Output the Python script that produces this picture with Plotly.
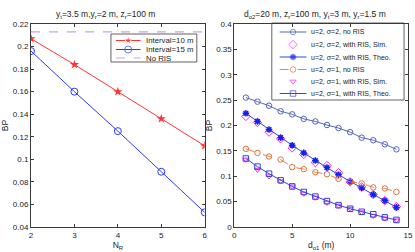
import plotly.graph_objects as go

# ---------------- data ----------------
# Left panel
nr = [2, 3, 4, 5, 6]
bp_int10 = [0.207, 0.184, 0.160, 0.136, 0.112]
bp_int15 = [0.196, 0.160, 0.125, 0.089, 0.053]
bp_noris_left = 0.213
left_names = ["Interval=10 m", "Interval=15 m", "No RIS"]

# Right panel
d_o1 = list(range(1, 15))
s2_noris = [0.255, 0.247, 0.239, 0.228, 0.222, 0.213, 0.208, 0.201, 0.195, 0.187, 0.176, 0.171, 0.163, 0.153]
s2_sim = [0.218, 0.206, 0.187, 0.174, 0.156, 0.143, 0.127, 0.121, 0.107, 0.089, 0.079, 0.064, 0.052, 0.040]
s2_theo = [0.224, 0.208, 0.192, 0.176, 0.161, 0.146, 0.131, 0.117, 0.103, 0.0895, 0.077, 0.064, 0.052, 0.0386]
s1_noris = [0.154, 0.146, 0.139, 0.133, 0.118, 0.114, 0.108, 0.104, 0.095, 0.089, 0.086, 0.078, 0.076, 0.069]
s1_sim = [0.133, 0.113, 0.100, 0.090, 0.080, 0.066, 0.058, 0.048, 0.042, 0.036, 0.029, 0.022, 0.017, 0.013]
s1_theo = [0.135, 0.119, 0.105, 0.092, 0.080, 0.069, 0.060, 0.051, 0.043, 0.036, 0.030, 0.025, 0.019, 0.014]
right_names = ["u=2, σ=2, no RIS", "u=2, σ=2, with RIS, Sim.", "u=2, σ=2, with RIS, Theo.",
               "u=2, σ=1, no RIS", "u=2, σ=1, with RIS, Sim.", "u=2, σ=1, with RIS, Theo."]

left_yticks = [0.04, 0.06, 0.08, 0.1, 0.12, 0.14, 0.16, 0.18, 0.2, 0.22]
right_yticks = [0, 0.05, 0.1, 0.15, 0.2, 0.25, 0.3, 0.35, 0.4]

# ---------------- styles ----------------
FONT = "Liberation Sans"
AX = "#3a3a3a"
W, H = 415, 252
PX0, PX1, PY0, PY1 = 31, 413, 24, 227   # plot-area pixel box


def px(x):
    return (x - PX0) / (PX1 - PX0)


def py(y):
    return (PY1 - y) / (PY1 - PY0)


left_styles = [
    dict(mode="lines+markers", line=dict(color="#ff3333", width=1),
         marker=dict(symbol="star", size=7, color="#ff3333")),
    dict(mode="lines+markers", line=dict(color="#2a3aff", width=1),
         marker=dict(symbol="circle-open", size=7, color="#2a3aff", line=dict(width=1))),
    dict(mode="lines", line=dict(color="#c9a3dd", width=1.2, dash="dash")),
]
right_styles = [
    dict(mode="lines+markers", line=dict(color="#5566bb", width=1),
         marker=dict(symbol="circle-open", size=5.5, color="#5566bb", line=dict(width=1))),
    dict(mode="markers",
         marker=dict(symbol="diamond-open", size=6.5, color="#ff22ff", line=dict(width=1))),
    dict(mode="lines+markers", line=dict(color="#3344dd", width=1),
         marker=dict(symbol="asterisk-open", size=5.5, color="#1122ee", line=dict(width=1.5))),
    dict(mode="lines+markers", line=dict(color="#e8844a", width=1, dash="dash"),
         marker=dict(symbol="circle-open", size=5.5, color="#e07040", line=dict(width=1))),
    dict(mode="markers",
         marker=dict(symbol="triangle-down-open", size=5.5, color="#ff22ff", line=dict(width=1))),
    dict(mode="lines+markers", line=dict(color="#3344dd", width=1),
         marker=dict(symbol="square-open", size=5.5, color="#3344dd", line=dict(width=1))),
]

fig = go.Figure()

# ---------------- data traces ----------------
left_series = [(nr, bp_int10), (nr, bp_int15), ([nr[0], nr[-1]], [bp_noris_left, bp_noris_left])]
for (xs, ys), st, nm in zip(left_series, left_styles, left_names):
    fig.add_trace(go.Scatter(x=xs, y=ys, name=nm, xaxis="x", yaxis="y", showlegend=False, **st))

right_series = [s2_noris, s2_sim, s2_theo, s1_noris, s1_sim, s1_theo]
for ys, st, nm in zip(right_series, right_styles, right_names):
    fig.add_trace(go.Scatter(x=d_o1, y=ys, name=nm, xaxis="x2", yaxis="y2", showlegend=False, **st))

# ---------------- hand-drawn legends (MATLAB-like compact) ----------------
shapes = []
annotations = []


def draw_legend(box, item_y, line_x, text_x, names, styles, fsize):
    x0, y0, x1, y1 = box
    shapes.append(dict(type="rect", xref="paper", yref="paper", x0=px(x0), x1=px(x1), y0=py(y1), y1=py(y0),
                       line=dict(color=AX, width=0.8), fillcolor="rgba(255,255,255,0)", layer="above"))
    xa, xb = line_x
    xm = (xa + xb) / 2
    for yy, nm, st in zip(item_y, names, styles):
        sample = dict(st)
        mode = st["mode"]
        if "markers" in mode:
            mk = dict(st["marker"])
            mk["size"] = [0, st["marker"]["size"], 0]
            sample["marker"] = mk
        if mode == "markers":
            xs = [px(xm)] * 3
        else:
            xs = [px(xa), px(xm), px(xb)]
        ys = [py(yy)] * 3
        fig.add_trace(go.Scatter(x=xs, y=ys, xaxis="x3", yaxis="y3", showlegend=False,
                                 hoverinfo="skip", **sample))
        annotations.append(dict(text=nm, x=px(text_x), y=py(yy), xref="paper", yref="paper",
                                xanchor="left", yanchor="middle", showarrow=False,
                                font=dict(family=FONT, size=fsize, color="#222222")))


draw_legend((112, 34, 199, 62), [40.5, 49.5, 58], (117, 142), 145, left_names, left_styles, 7.8)
draw_legend((275, 23, 409, 100), [32, 44.5, 57, 69.5, 81.5, 93.5], (283, 310), 313,
            right_names, right_styles, 7)

# ---------------- titles ----------------
annotations += [
    dict(text="y<sub>t</sub>=3.5 m,y<sub>r</sub>=2 m, z<sub>r</sub>=100 m", x=px(106), y=py(14),
         xref="paper", yref="paper", xanchor="center", yanchor="middle", showarrow=False,
         font=dict(family=FONT, size=8.5, color="#222222")),
    dict(text="d<sub>o2</sub>=20 m, z<sub>r</sub>=100 m, y<sub>t</sub>=3 m, y<sub>r</sub>=1.5 m", x=px(319),
         y=py(14), xref="paper", yref="paper", xanchor="center", yanchor="middle", showarrow=False,
         font=dict(family=FONT, size=8.5, color="#222222")),
]

axis_common = dict(showgrid=False, zeroline=False, showline=True, mirror="ticks", linecolor=AX,
                   linewidth=1, ticks="inside", ticklen=3, tickcolor=AX,
                   tickfont=dict(family=FONT, size=8, color="#222222"))

fig.update_layout(
    width=W, height=H,
    margin=dict(l=PX0, r=W - PX1, t=PY0, b=H - PY1),
    paper_bgcolor="white", plot_bgcolor="rgba(0,0,0,0)",
    font=dict(family=FONT, size=8, color="#222222"),
    showlegend=False,
    xaxis=dict(domain=[0, px(207)], range=[2, 6], tickvals=nr, anchor="y", **axis_common,
               title=dict(text="N<sub>R</sub>", font=dict(size=8.5), standoff=3)),
    yaxis=dict(domain=[0, 1], range=[0.04, 0.22], anchor="x",
               tickvals=left_yticks, ticktext=[f"{v:g}" for v in left_yticks],
               **axis_common, title=dict(text="BP", font=dict(size=8.5), standoff=2)),
    xaxis2=dict(domain=[px(237), 1.0], range=[0, 15], tickvals=[0, 5, 10, 15], anchor="y2", **axis_common,
                title=dict(text="d<sub>o1</sub> (m)", font=dict(size=8.5), standoff=3)),
    yaxis2=dict(domain=[0, 1], range=[0, 0.4], anchor="x2",
                tickvals=right_yticks, ticktext=[f"{v:g}" for v in right_yticks],
                **axis_common, title=dict(text="BP", font=dict(size=8.5), standoff=2)),
    xaxis3=dict(domain=[0, 1], range=[0, 1], anchor="y3", visible=False, fixedrange=True),
    yaxis3=dict(domain=[0, 1], range=[0, 1], anchor="x3", visible=False, fixedrange=True),
    shapes=shapes,
    annotations=annotations,
)

fig.write_html("out.html", config={"displayModeBar": False},
               post_script="document.body.style.margin='0px';")
